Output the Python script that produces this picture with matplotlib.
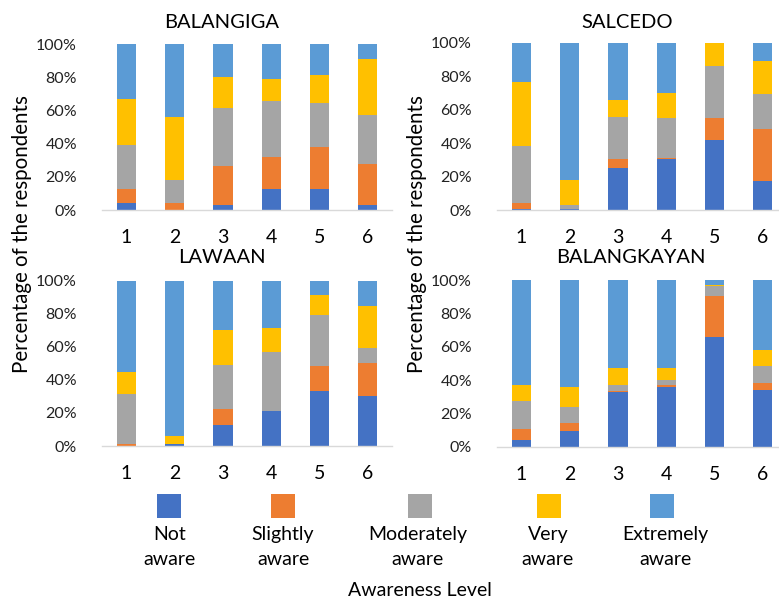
import matplotlib
matplotlib.use("Agg")
import matplotlib.pyplot as plt
import numpy as np
from matplotlib.patches import Rectangle

plt.rcParams['font.family'] = ['Lato', 'DejaVu Sans']

levels = ['1', '2', '3', '4', '5', '6']
series_names = ['Not\naware', 'Slightly\naware', 'Moderately\naware', 'Very\naware', 'Extremely\naware']
colors = ['#4472C4', '#ED7D31', '#A5A5A5', '#FFC000', '#5B9BD5']

# percentages per level: not, slightly, moderately, very, extremely
balangiga_not = [4.0, 0.0, 2.8, 12.6, 12.6, 2.8]
balangiga_slight = [8.6, 4.4, 23.9, 19.5, 25.3, 25.1]
balangiga_mod = [26.4, 13.8, 35.0, 33.8, 26.8, 29.2]
balangiga_very = [27.7, 37.9, 18.3, 13.3, 16.5, 34.1]
balangiga_ext = [33.3, 43.9, 20.0, 20.8, 18.8, 8.8]

salcedo_not = [0.8, 0.8, 25.3, 30.3, 42.0, 17.5]
salcedo_slight = [3.2, 0.0, 5.0, 0.6, 13.2, 30.9]
salcedo_mod = [34.2, 2.0, 25.5, 24.3, 31.3, 21.1]
salcedo_very = [38.7, 15.3, 9.9, 14.9, 13.5, 19.9]
salcedo_ext = [23.1, 81.9, 34.3, 29.9, 0.0, 10.6]

lawaan_not = [0.0, 1.4, 12.5, 21.4, 33.3, 30.2]
lawaan_slight = [1.4, 0.0, 10.1, 0.0, 15.1, 20.0]
lawaan_mod = [30.1, 0.0, 26.4, 35.3, 31.0, 9.1]
lawaan_very = [13.3, 4.9, 21.6, 15.1, 11.9, 25.8]
lawaan_ext = [55.2, 93.7, 29.4, 28.2, 8.7, 14.9]

balangkayan_not = [4.0, 9.4, 32.7, 35.7, 65.7, 33.9]
balangkayan_slight = [6.6, 4.9, 1.0, 1.2, 24.9, 4.7]
balangkayan_mod = [16.9, 9.4, 3.2, 3.1, 5.6, 10.2]
balangkayan_very = [9.4, 12.0, 10.7, 7.6, 0.8, 9.4]
balangkayan_ext = [63.1, 64.3, 52.4, 52.4, 3.0, 41.8]

panels = [
    ('BALANGIGA', [balangiga_not, balangiga_slight, balangiga_mod, balangiga_very, balangiga_ext]),
    ('SALCEDO', [salcedo_not, salcedo_slight, salcedo_mod, salcedo_very, salcedo_ext]),
    ('LAWAAN', [lawaan_not, lawaan_slight, lawaan_mod, lawaan_very, lawaan_ext]),
    ('BALANGKAYAN', [balangkayan_not, balangkayan_slight, balangkayan_mod, balangkayan_very, balangkayan_ext]),
]

W, H = 779, 600
fig = plt.figure(figsize=(W / 100, H / 100), dpi=100)

# pixel boxes (left, top, right, bottom)
boxes = [(102, 44, 392, 210), (497, 43, 787, 210), (102, 281, 392, 446), (497, 280, 787, 447)]
title_pos = [(222, 23), (627, 23), (222, 258), (631, 258)]

for (name, data), (l, t, r, b), (tx, ty) in zip(panels, boxes, title_pos):
    ax = fig.add_axes([l / W, 1 - b / H, (r - l) / W, (b - t) / H])
    x = np.arange(1, len(levels) + 1)
    bottom = np.zeros(len(levels))
    for vals, c in zip(data, colors):
        v = np.array(vals, dtype=float)
        ax.bar(x, v, 0.4, bottom=bottom, color=c, edgecolor='none')
        bottom += v
    ax.set_xlim(0.5, 6.5)
    ax.set_ylim(0, 100)
    ax.set_xticks(x)
    ax.set_xticklabels(levels, fontsize=14)
    ax.set_yticks([0, 20, 40, 60, 80, 100])
    ax.set_yticklabels(['0%', '20%', '40%', '60%', '80%', '100%'], fontsize=11.5, color='#222222')
    ax.tick_params(axis='both', length=0)
    ax.tick_params(axis='y', pad=18)
    ax.tick_params(axis='x', pad=14)
    for s in ['top', 'right', 'left']:
        ax.spines[s].set_visible(False)
    ax.spines['bottom'].set_color('#D9D9D9')
    ax.spines['bottom'].set_linewidth(1.0)
    fig.text(tx / W, 1 - ty / H, name, ha='center', va='center', fontsize=14.5)

for lx in (22, 417):
    fig.text(lx / W, 1 - 234 / H, 'Percentage of the respondents', rotation=90,
             ha='center', va='center', fontsize=14.8)

# legend
sq_x = [169, 283, 420, 549, 662]
lab_x = [170, 283, 418, 548, 665]
for cx, lx, c, lab in zip(sq_x, lab_x, colors, series_names):
    fig.patches.append(Rectangle(((cx - 12) / W, 1 - 518 / H), 24 / W, 24 / H,
                                 transform=fig.transFigure, facecolor=c, edgecolor='none'))
    fig.text(lx / W, 1 - 547 / H, lab, ha='center', va='center', fontsize=14, linespacing=1.55)

fig.text(420 / W, 1 - 590 / H, 'Awareness Level', ha='center', va='center', fontsize=14)

fig.savefig('out.png', dpi=100)
